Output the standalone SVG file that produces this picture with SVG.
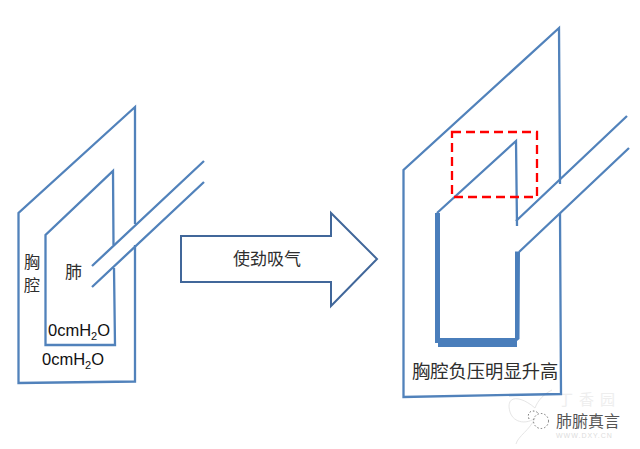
<svg xmlns="http://www.w3.org/2000/svg" width="640" height="449" viewBox="0 0 640 449">
<style>
.l{fill:none;stroke:#5182bb;stroke-width:2.300}
.t{font-family:"Noto Sans CJK SC","Liberation Sans",sans-serif;font-size:17px;fill:#2e2e2e}
.e{font-family:"Liberation Sans",Arial,sans-serif;font-size:16.500px;fill:#111}
.s{font-size:11px}
.th{fill:#4a7ebb}
</style>
<rect width="640" height="449" fill="#fff"/>
<g id="watermark-faint" fill="none" stroke="#e6e6e6" stroke-width="1">
<path d="M535 408C520 395 505 395 510 412C514 424 528 424 535 418C530 430 518 436 516 444M535 408C538 400 544 394 552 390"/>
<text x="558" y="405" font-family="'Noto Sans CJK SC',sans-serif" font-size="15" letter-spacing="6" fill="#eee" stroke="none">丁香园</text>
<text x="556" y="438" font-family="'Liberation Sans',sans-serif" font-size="7" fill="#ddd" stroke="none" letter-spacing="1">WWW.DXY.CN</text>
</g>
<g id="left-chest">
<path class="l" d="M135 224V107L18.500 213V383L135 381.500V245"/>
<text class="t" x="24" y="268" style="font-size:16px">胸</text>
<text class="t" x="24" y="291" style="font-size:16px">腔</text>
</g>
<g id="left-lung">
<path class="l" d="M113.500 245L113 171L45.500 235V345H115L114 268"/>
<text class="t" x="65" y="278">肺</text>
<text class="e" x="48" y="336">0cmH<tspan class="s" dy="4">2</tspan><tspan dy="-4">O</tspan></text>
</g>
<g id="left-pressure">
<text class="e" x="42" y="365">0cmH<tspan class="s" dy="4">2</tspan><tspan dy="-4">O</tspan></text>
</g>
<g id="arrow">
<path d="M181 236H331V213L377 259L331 306V282H181Z" fill="#fff" stroke="#41679a" stroke-width="2"/>
<text class="t" x="233" y="265">使劲吸气</text>
</g>
<g id="right-chest">
<path class="l" d="M560 184L559 28L403.500 170V397L561 394L560 213"/>
<text class="t" x="412" y="378" style="font-size:18.300px">胸腔负压明显升高</text>
</g>
<g id="right-lung">
<path class="l" d="M437 213L516 141L517 226"/>
<path class="th" d="M435 213H440V338H515V251.500H520L519.500 339L517 341V347H438V343H435Z"/>
</g>
<g id="highlight">
<rect x="452" y="132" width="85" height="65" fill="none" stroke="#f00" stroke-width="2.300" stroke-dasharray="9 5"/>
</g>
<g id="connectors">
<path class="l" d="M92 266L204 161M92 287L204 182"/>
<path class="l" d="M516 221L627 116M519 252L629 148"/>
</g>
<g id="watermark">
<g fill="none" stroke="#555" stroke-width="0.800" stroke-dasharray="1.500 2">
<circle cx="541" cy="421" r="7.500"/>
<path d="M529 419C526 411 534 409 538 413"/>
</g>
<text x="556" y="427" font-family="'Noto Sans CJK SC',sans-serif" font-size="16" fill="#555">肺腑真言</text>
</g>
</svg>
